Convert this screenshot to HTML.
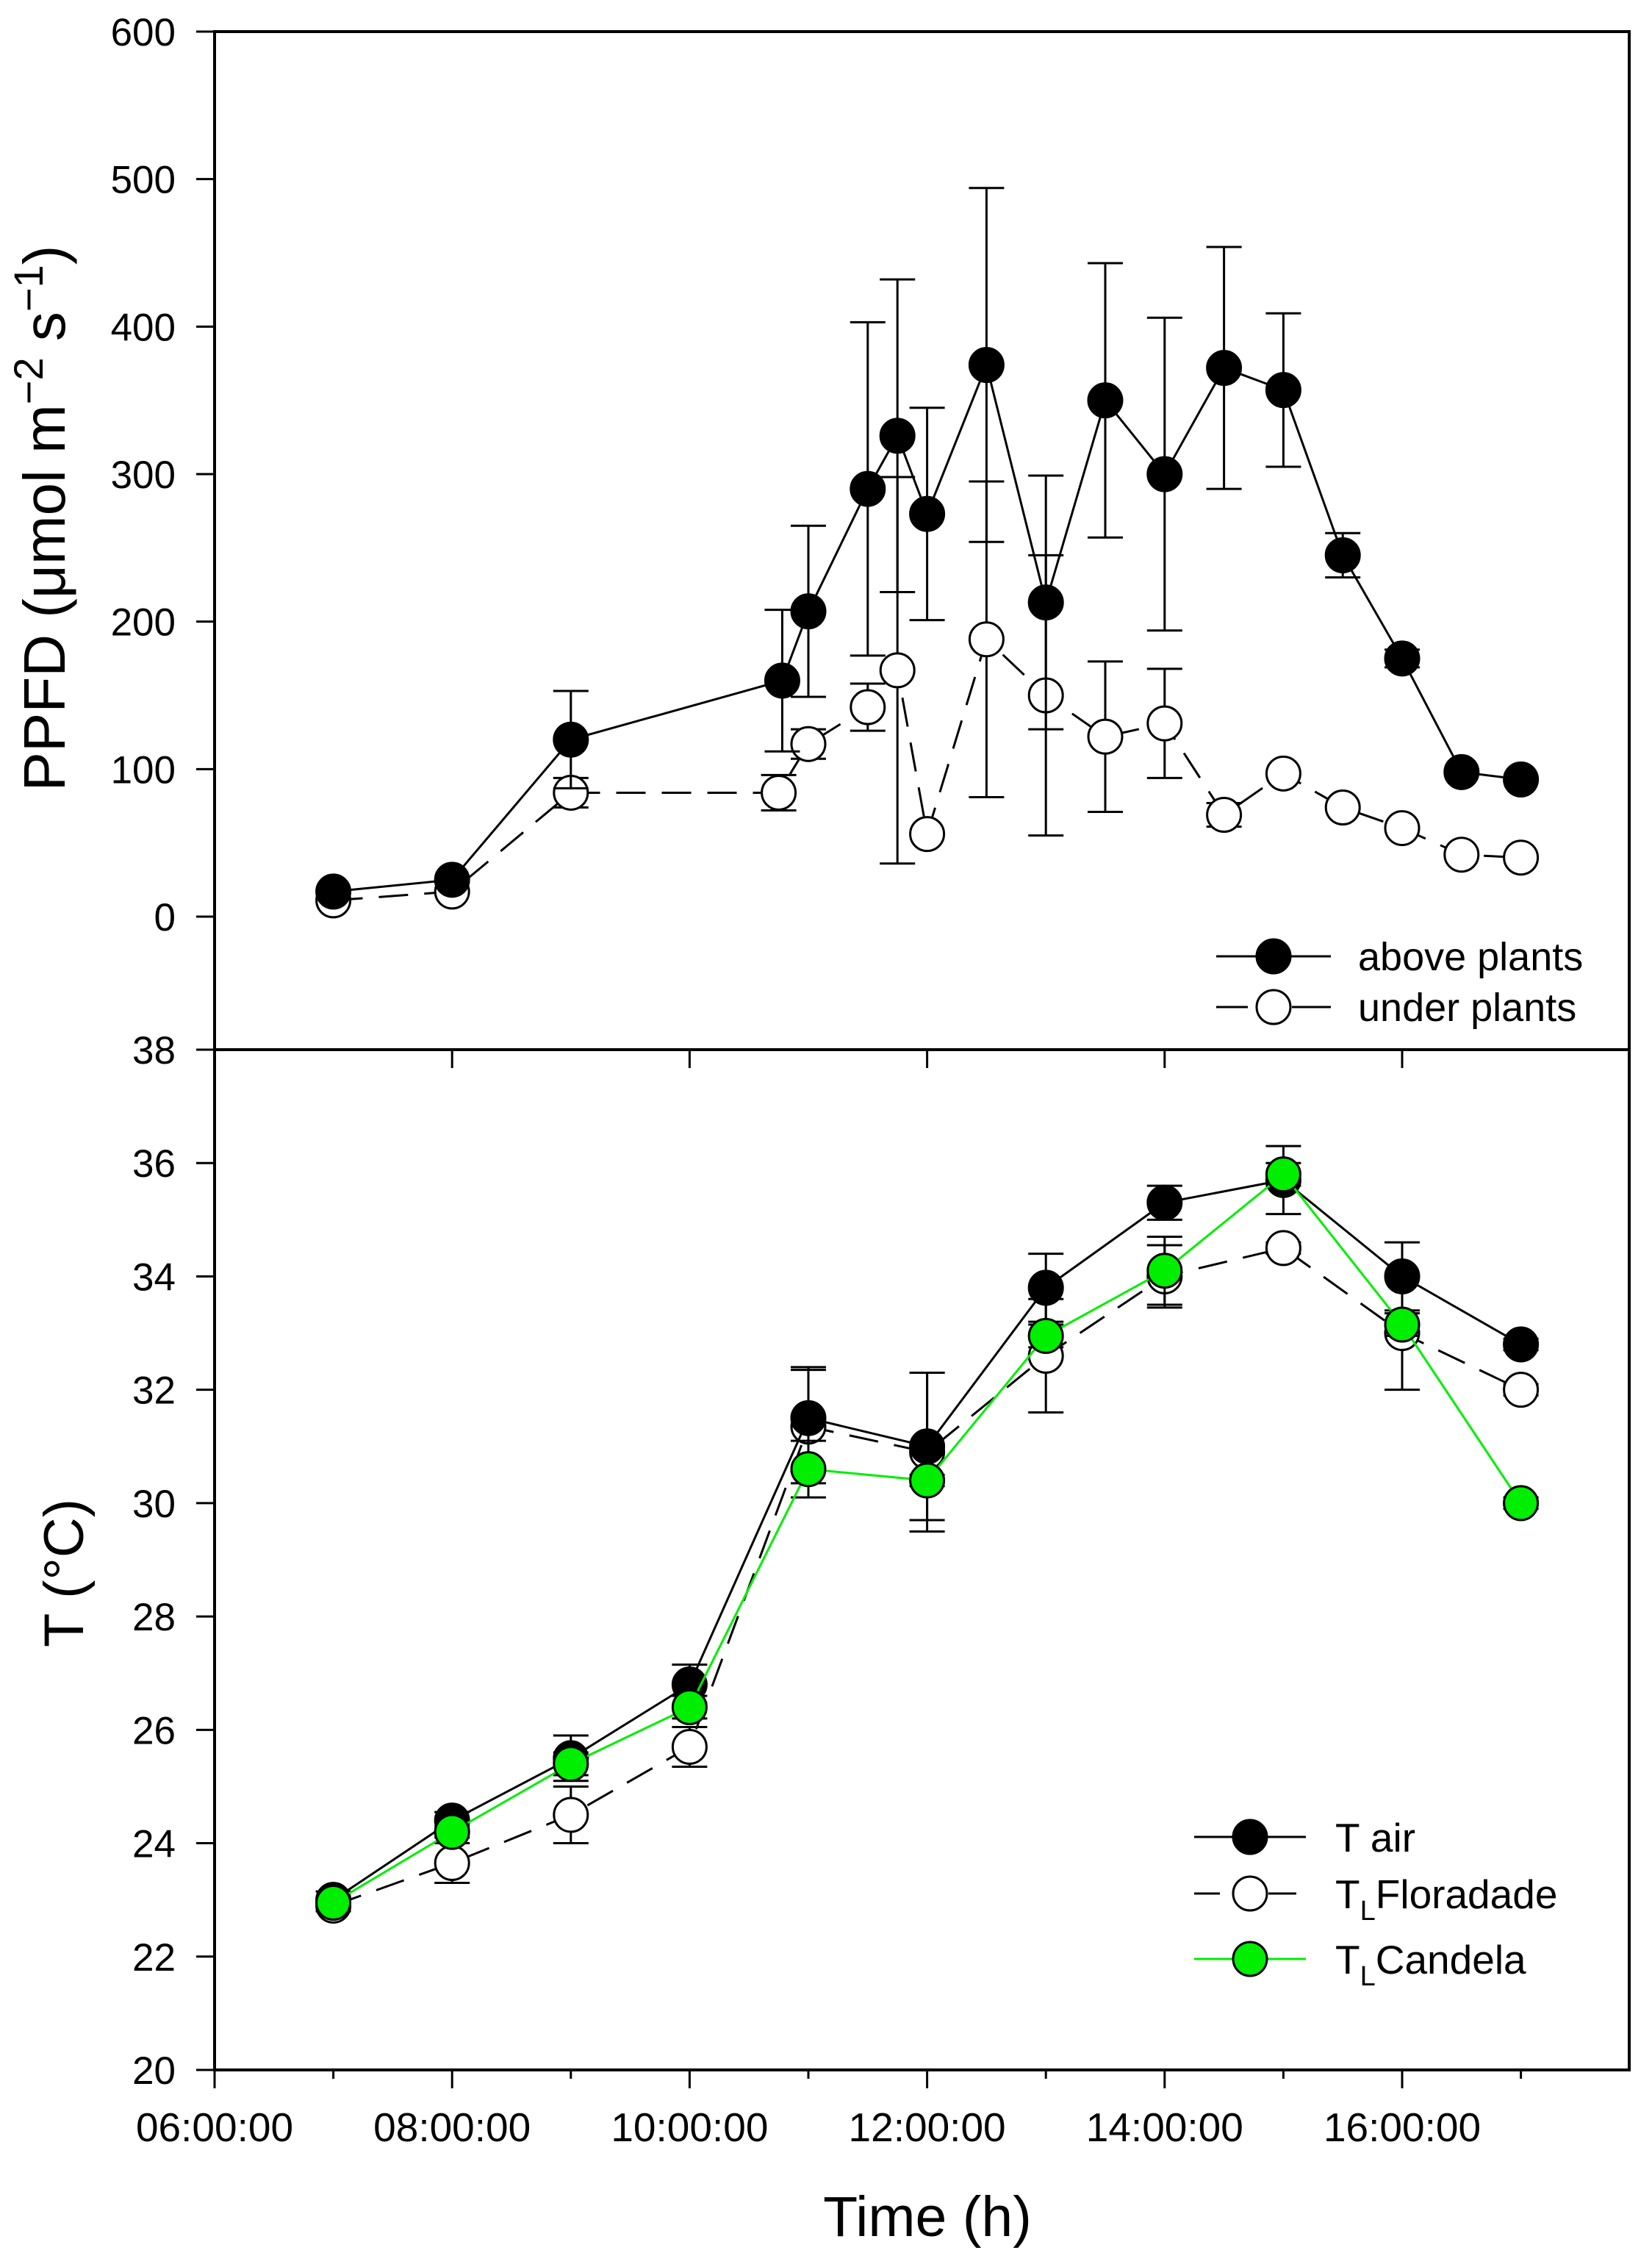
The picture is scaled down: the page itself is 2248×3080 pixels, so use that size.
<!DOCTYPE html>
<html><head><meta charset="utf-8"><style>
html,body{margin:0;padding:0;background:#fff;}
svg{display:block;font-family:"Liberation Sans",Arial,sans-serif;}
</style></head><body>
<svg id="chart" width="2248" height="3080" viewBox="0 0 2248 3080" xmlns="http://www.w3.org/2000/svg">
<g id="axes"></g>
<g id="marks"></g>
<text transform="translate(88,705) rotate(-90)" text-anchor="middle" font-size="80">PPFD (μmol m<tspan dy="-30" font-size="56">−2</tspan><tspan dy="30"> s</tspan><tspan dy="-30" font-size="56">−1</tspan><tspan dy="30">)</tspan></text>
<text transform="translate(113,2140) rotate(-90)" text-anchor="middle" font-size="76">T (°C)</text>
<text x="1262" y="3042" text-anchor="middle" font-size="77">Time (h)</text>
<g>
  <line x1="1655" y1="1301" x2="1811" y2="1301" stroke="#000" stroke-width="3"/>
  <circle cx="1733" cy="1301" r="23" fill="#000" stroke="#000" stroke-width="3"/>
  <text x="1848" y="1320" font-size="54">above plants</text>
  <line x1="1655" y1="1370" x2="1698" y2="1370" stroke="#000" stroke-width="3"/>
  <line x1="1758" y1="1370" x2="1811" y2="1370" stroke="#000" stroke-width="3"/>
  <circle cx="1733" cy="1370" r="23" fill="#fff" stroke="#000" stroke-width="3"/>
  <text x="1848" y="1389" font-size="54">under plants</text>
</g>
<g>
  <line x1="1625" y1="2499" x2="1777" y2="2499" stroke="#000" stroke-width="3"/>
  <circle cx="1701" cy="2499" r="23" fill="#000" stroke="#000" stroke-width="3"/>
  <text x="1817" y="2519" font-size="55">T air</text>
  <line x1="1625" y1="2576" x2="1660" y2="2576" stroke="#000" stroke-width="3"/>
  <line x1="1726" y1="2576" x2="1764" y2="2576" stroke="#000" stroke-width="3"/>
  <circle cx="1701" cy="2576" r="23" fill="#fff" stroke="#000" stroke-width="3"/>
  <text x="1817" y="2596" font-size="55">T<tspan dy="16" font-size="38">L</tspan><tspan dy="-16">Floradade</tspan></text>
  <line x1="1625" y1="2665" x2="1777" y2="2665" stroke="#00ee00" stroke-width="3"/>
  <circle cx="1701" cy="2665" r="23" fill="#00ee00" stroke="#000" stroke-width="3"/>
  <text x="1817" y="2685" font-size="55">T<tspan dy="16" font-size="38">L</tspan><tspan dy="-16">Candela</tspan></text>
</g>
</svg>
<script>
// data
const timeAbove = [7, 8, 9, 10.78, 11, 11.5, 11.75, 12, 12.5, 13, 13.5, 14, 14.5, 15, 15.5, 16, 16.5, 17];
const ppfdAbove = [17, 25, 120, 160, 207, 290, 326, 273, 374, 213, 350, 300, 372, 357, 245, 175, 98, 93];
const ppfdAboveErr = [0, 0, 33, 48, 58, 113, 106, 72, 120, 86, 93, 106, 82, 52, 15, 6, 0, 0];
const timeUnder = [7, 8, 9, 10.75, 11, 11.5, 11.75, 12, 12.5, 13, 13.5, 14, 14.5, 15, 15.5, 16, 16.5, 17];
const ppfdUnder = [11, 17, 84, 84, 117, 142, 167, 56, 188, 150, 122, 131, 69, 97, 74, 60, 42, 40];
const ppfdUnderErr = [0, 0, 10, 12, 10, 16, 131, 0, 107, 95, 51, 37, 8, 0, 0, 0, 0, 0];
const timeT = [7, 8, 9, 10, 11, 12, 13, 14, 15, 16, 17];
const tAir = [23.0, 24.4, 25.5, 26.8, 31.5, 31.0, 33.8, 35.3, 35.7, 34.0, 32.8];
const tAirErr = [0.15, 0.15, 0.4, 0.35, 0.9, 1.3, 0.6, 0.3, 0.6, 0.6, 0.1];
const tFlor = [22.9, 23.65, 24.5, 25.7, 31.35, 30.9, 32.6, 34.0, 34.5, 33.0, 32.0];
const tFlorErr = [0.1, 0.35, 0.5, 0.35, 1.0, 1.4, 1.0, 0.55, 0.1, 1.0, 0.1];
const tCand = [22.95, 24.2, 25.4, 26.4, 30.6, 30.4, 32.95, 34.1, 35.8, 33.15, 30.0];
const tCandErr = [0.1, 0.1, 0.2, 0.2, 0.5, 0.1, 0.2, 0.6, 0.2, 0.2, 0.1];
const ppfdTicks = [0, 100, 200, 300, 400, 500, 600];
const tTicks = [20, 22, 24, 26, 28, 30, 32, 34, 36, 38];
const xTickLabels = ["06:00:00", "08:00:00", "10:00:00", "12:00:00", "14:00:00", "16:00:00"];
const xTickHours = [6, 8, 10, 12, 14, 16];

const NS = "http://www.w3.org/2000/svg";
const L = 292, R = 2217, TOP = 43, MID = 1428, BOT = 2816, HOUR = 161.6, ZERO = 1247;
const x = h => L + (h - 6) * HOUR;
const yP = v => ZERO - v * (ZERO - TOP) / 600;
const yT = v => BOT - (v - 20) * (BOT - MID) / 18;
const axes = document.getElementById('axes'), marks = document.getElementById('marks');
function mk(tag, attrs, parent) { const e = document.createElementNS(NS, tag); for (const k in attrs) e.setAttribute(k, attrs[k]); parent.appendChild(e); return e; }

let fr = mk('rect', {x: L, y: TOP, width: R - L, height: BOT - TOP, fill: 'none', stroke: '#000', 'stroke-width': 4}, axes);


let md = mk('line', {x1: L, y1: MID, x2: R, y2: MID, stroke: '#000', 'stroke-width': 4}, axes);



ppfdTicks.forEach(v => {
  mk('line', {x1: L - 25, y1: yP(v), x2: L, y2: yP(v), stroke: '#000', 'stroke-width': 3}, axes);
  const t = mk('text', {x: 239, y: yP(v) + 19, 'text-anchor': 'end', 'font-size': 53}, axes);
  t.textContent = v;
  
  
});
tTicks.forEach(v => {
  mk('line', {x1: L - 25, y1: yT(v), x2: L, y2: yT(v), stroke: '#000', 'stroke-width': 3}, axes);
  const t = mk('text', {x: 239, y: yT(v) + 19, 'text-anchor': 'end', 'font-size': 53}, axes);
  t.textContent = v;
  
  
});
for (let h = 6; h <= 17; h++) {
  const major = h % 2 === 0;
  mk('line', {x1: x(h), y1: BOT, x2: x(h), y2: BOT + (major ? 25 : 12), stroke: '#000', 'stroke-width': 3}, axes);
  if (major && h > 6) mk('line', {x1: x(h), y1: MID, x2: x(h), y2: MID + 25, stroke: '#000', 'stroke-width': 3}, axes);
}
xTickHours.forEach((h, i) => {
  const t = mk('text', {x: x(h), y: 2913, 'text-anchor': 'middle', 'font-size': 55}, axes);
  t.textContent = xTickLabels[i];
  
  
});

function series(xs, ys, errs, yf, opts, name) {
  const g = mk('g', {}, marks);
  
  
  xs.forEach((h, i) => {
    if (errs[i] > 0) {
      const a = yf(ys[i] + errs[i]), b = yf(ys[i] - errs[i]);
      mk('line', {x1: x(h), y1: a, x2: x(h), y2: b, stroke: '#000', 'stroke-width': 3}, g);
      mk('line', {x1: x(h) - 24, y1: a, x2: x(h) + 24, y2: a, stroke: '#000', 'stroke-width': 3}, g);
      mk('line', {x1: x(h) - 24, y1: b, x2: x(h) + 24, y2: b, stroke: '#000', 'stroke-width': 3}, g);
    }
  });
  const pts = xs.map((h, i) => x(h) + ',' + yf(ys[i])).join(' ');
  const pl = mk('polyline', {points: pts, fill: 'none', stroke: opts.line, 'stroke-width': 3}, g);
  if (opts.dash) pl.setAttribute('stroke-dasharray', '40,22');
  xs.forEach((h, i) => {
    const c = mk('circle', {cx: x(h), cy: yf(ys[i]), r: 23, fill: opts.fill, stroke: '#000', 'stroke-width': 3}, g);
    
    
  });
}
series(timeUnder, ppfdUnder, ppfdUnderErr, yP, {line: '#000', fill: '#fff', dash: true}, 'under-plants-series');
series(timeAbove, ppfdAbove, ppfdAboveErr, yP, {line: '#000', fill: '#000'}, 'above-plants-series');
series(timeT, tFlor, tFlorErr, yT, {line: '#000', fill: '#fff', dash: true}, 'floradade-series');
series(timeT, tAir, tAirErr, yT, {line: '#000', fill: '#000'}, 't-air-series');
series(timeT, tCand, tCandErr, yT, {line: '#00ee00', fill: '#00ee00'}, 'candela-series');
</script>
</body></html>
